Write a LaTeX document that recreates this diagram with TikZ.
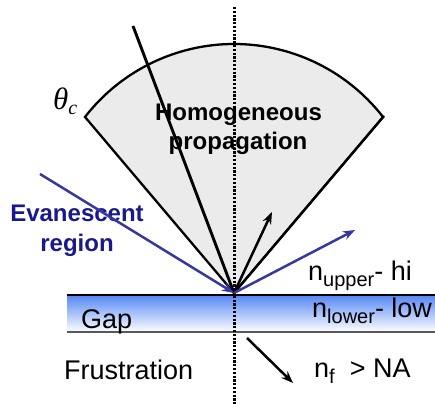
\documentclass[tikz,border=0pt]{standalone}
\usepackage{fontspec}
\setmainfont{Liberation Sans}
\newfontfamily\thetafont{Liberation Serif}
\usetikzlibrary{arrows.meta}
\definecolor{fang}{RGB}{235,235,235}
\definecolor{raybl}{RGB}{55,55,160}
\definecolor{evbl}{RGB}{25,25,140}
\definecolor{gapbl}{RGB}{85,135,245}
\tikzset{
  ray/.style={line width=2.5pt},
  tip/.style={-{Stealth[length=12pt,width=9pt]}},
  lbl/.style={inner sep=0pt,anchor=base west,font=\fontsize{27}{30}\selectfont},
  bold/.style={inner sep=0pt,anchor=base,font=\fontsize{24}{29}\selectfont\bfseries,align=center}
}
\newcommand{\sbs}[1]{\raisebox{-6pt}{\fontsize{20}{20}\selectfont #1}}
\begin{document}
\begin{tikzpicture}[x=1pt,y=1pt]
\useasboundingbox (0,0) rectangle (435,404);
\coordinate (O) at (234,111);
\coordinate (L) at (85,287);
\coordinate (R) at (382,286);
\coordinate (Rx) at (384,288);
% gap band
\shade[top color=gapbl,bottom color=white] (67,109) rectangle (435,72);
\draw[line width=1.4pt,gray!70!black] (67,72) -- (435,72);
\draw[line width=2.4pt] (67,109) -- (435,109);
% fan
\filldraw[fill=fang,draw=black,line width=2.3pt] (O) -- (L) arc[start angle=142.2,end angle=37.8,radius=188.6] -- cycle;
\draw[line width=2.3pt] (O) -- (Rx);
% dotted normal
\coordinate (Dt) at (234,397);
\coordinate (Db) at (234,0);
\draw[line width=3pt,dash pattern=on 2.2pt off 1.6pt] (Dt) -- (Db);
% texts
\node[inner sep=0pt,anchor=base west] (th) at (53,294) {\thetafont\itshape\fontsize{31}{31}\selectfont θ\raisebox{-5pt}{\fontsize{20}{20}\selectfont c}};
\node[bold] (hom) at (238.5,283) {Homogeneous};
\node[bold] (prop) at (238,254) {propagation};
\node[bold,text=evbl] (ev1) at (77,182) {Evanescent};
\node[bold,text=evbl] (ev2) at (77,153) {region};
\node[lbl] (gap) at (81,76) {Gap};
\node[lbl] (fr) at (64,25) {Frustration};
\node[lbl] (nu) at (308,124) {n\sbs{upper}- hi};
\node[lbl] (nl) at (312,87) {n\sbs{lower}- low};
\node[lbl] (nf) at (314,27) {n\sbs{f}\ \ > NA};
% rays
\coordinate (In) at (133,378);
\draw[line width=2.9pt] (In) -- (O);
\coordinate (Up) at (272,192);
\draw[ray,tip] (O) -- (Up);
\coordinate (Bin) at (40,230);
\coordinate (Bout) at (355,174);
\draw[ray,raybl,tip] (Bin) -- (O);
\draw[ray,raybl,tip] (O) -- (Bout);
\coordinate (Fa) at (247,66);
\coordinate (Fb) at (293,21);
\draw[ray,tip] (Fa) -- (Fb);
\end{tikzpicture}
\end{document}
